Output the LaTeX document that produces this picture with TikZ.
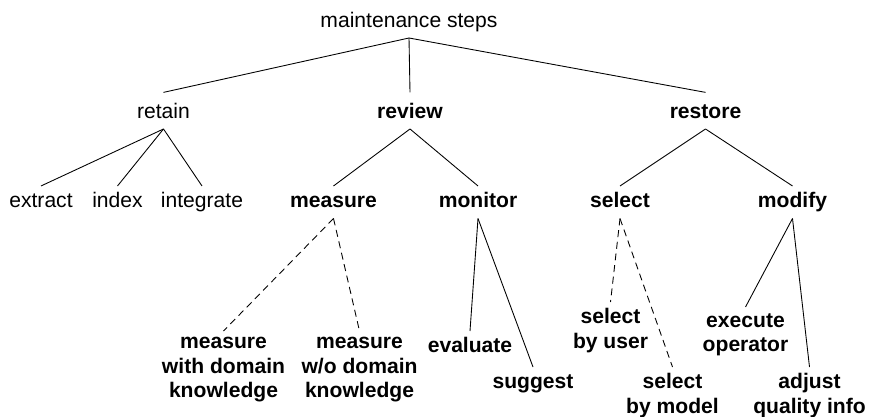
\documentclass[tikz,border=0pt]{standalone}
\usepackage{fontspec}
\setmainfont{Liberation Sans}

\begin{document}
\begin{tikzpicture}[x=0.03cm,y=-0.03cm,line width=0.75pt,
  tree node/.style={anchor=base,font=\fontsize{18}{21}\selectfont,
    text height=13pt,text depth=4pt,inner xsep=0pt,inner ysep=5pt},
  key node/.style={tree node,font=\fontsize{18}{21}\selectfont\bfseries},
  upper/.style={text height=16.5pt},
  leaf node/.style={anchor=north,align=center,inner xsep=0pt,inner ysep=5pt,
    font=\fontsize{18}{21}\selectfont\bfseries,
    execute at begin node={\vphantom{l}}},
  optional/.style={dash pattern=on 6pt off 4pt}]

  \useasboundingbox (0,0) rectangle (870,416);

  \node[tree node] (root) at (409,27) {maintenance steps};

  \node[tree node,upper] (retain) at (163.5,118) {retain};
  \node[key node,upper] (review) at (410,118) {review};
  \node[key node,upper] (restore) at (705.5,118) {restore};

  \node[tree node] (extract) at (41,207.5) {extract};
  \node[tree node] (index) at (117.5,207.5) {index};
  \node[tree node] (integrate) at (202,207.5) {integrate};
  \node[key node] (measure) at (333.5,207.5) {measure};
  \node[key node] (monitor) at (478,207.5) {monitor};
  \node[key node] (select) at (620,207.5) {select};
  \node[key node] (modify) at (792.5,207.5) {modify};

  \node[leaf node] (withdk) at (223.5,331) {measure\\with domain\\knowledge};
  \node[leaf node] (wodk) at (359.5,331) {measure\\w/o domain\\knowledge};
  \node[leaf node] (evaluate) at (470,331) {evaluate};
  \node[leaf node] (suggest) at (533,367) {suggest};
  \node[leaf node] (byuser) at (610.5,302) {select\\by user};
  \node[leaf node] (bymodel) at (672.5,367) {select\\by model};
  \node[leaf node] (execop) at (745.5,307) {execute\\operator};
  \node[leaf node] (adjust) at (809.5,367) {adjust\\quality info};

  \path
    (root.south) edge (retain.north)
    (root.south) edge (review.north)
    (root.south) edge (restore.north)
    (retain.south) edge (extract.north)
    (retain.south) edge (index.north)
    (retain.south) edge (integrate.north)
    (review.south) edge (measure.north)
    (review.south) edge (monitor.north)
    (restore.south) edge (select.north)
    (restore.south) edge (modify.north)
    % dashed ones are the optional measure / select variants
    (measure.south) edge[optional] (withdk.north)
    (measure.south) edge[optional] (wodk.north)
    (monitor.south) edge (evaluate.north)
    (monitor.south) edge (suggest.north)
    (select.south) edge[optional] (byuser.north)
    (select.south) edge[optional] (bymodel.north)
    (modify.south) edge (execop.north)
    (modify.south) edge (adjust.north);

\end{tikzpicture}
\end{document}
